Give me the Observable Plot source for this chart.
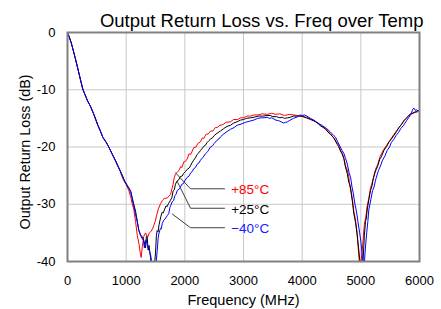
<!DOCTYPE html>
<html>
<head>
<meta charset="utf-8">
<script src="https://cdn.jsdelivr.net/npm/d3@7"></script>
<script src="https://cdn.jsdelivr.net/npm/@observablehq/plot@0.6"></script>
<style>
  html, body { margin: 0; padding: 0; background: #ffffff; }
  #chart { width: 441px; height: 309px; }
</style>
</head>
<body>
<div id="chart"></div>
<script>
const titleText = "Output Return Loss vs. Freq over Temp";
const xTitle = "Frequency (MHz)";
const yTitle = "Output Return Loss (dB)";
const xTicks = [0, 1000, 2000, 3000, 4000, 5000, 6000];
const yTicks = [0, -10, -20, -30, -40];

// [frequency MHz, return loss dB]; shared low-frequency part (all temperatures overlap)
const startPts = [[0,0],[30,-0.8],[60,-1.7],[90,-2.8],[130,-4.4],[176,-6.3],[220,-8.2],[261,-9.9],[300,-10.9],[340,-11.9],[392,-12.9],[449,-14.3],[517,-16.2],[560,-17.2],[602,-18.3],[660,-19.2],[704,-20.0],[760,-21.2],[818,-22.4]];

const pts85 = [[900,-24.3],[930,-25.2],[960,-25.9],[1000,-26.5],[1045,-27.6],[1080,-28.8],[1100,-29.8],[1130,-30.9],[1160,-33.0],[1190,-35.5],[1220,-37.0],[1240,-38.5],[1256,-39.3],[1275,-37.4],[1300,-35.6],[1330,-35.0],[1350,-35.4],[1370,-35.7],[1395,-35.0],[1420,-34.8],[1450,-34.3],[1471,-33.7],[1495,-33.0],[1520,-31.9],[1550,-30.8],[1585,-29.9],[1620,-29.3],[1650,-29.0],[1700,-28.9],[1730,-28.6],[1756,-28.3],[1780,-27.3],[1800,-26.5],[1820,-25.3],[1841,-24.7],[1900,-24.1],[1930,-23.4],[1950,-23.6],[1982,-22.6],[2010,-22.5],[2040,-22.1],[2070,-21.2],[2100,-21.3],[2153,-20.1],[2190,-20.0],[2220,-19.4],[2267,-19.1],[2300,-18.4],[2324,-18.5],[2360,-17.8],[2400,-17.7],[2440,-17.2],[2480,-17.2],[2520,-16.6],[2551,-16.6],[2600,-16.2],[2650,-16.1],[2700,-15.7],[2778,-15.6],[2830,-15.2],[2900,-15.2],[2950,-14.9],[3000,-14.9],[3060,-14.6],[3119,-14.6],[3180,-14.4],[3250,-14.4],[3320,-14.2],[3404,-14.3],[3480,-14.1],[3550,-14.3],[3620,-14.2],[3700,-14.5],[3780,-14.3],[3857,-14.4],[3920,-14.5],[4000,-14.7],[4070,-14.8],[4142,-15.1],[4220,-15.5],[4270,-15.8],[4312,-16.2],[4400,-16.8],[4440,-17.3],[4483,-17.7],[4540,-18.4],[4596,-19.4],[4620,-19.6],[4653,-20.6],[4680,-21.0],[4710,-21.9],[4738,-23.3],[4765,-23.9],[4795,-25.2],[4810,-26.8],[4830,-27.4],[4855,-29.0],[4880,-31.2],[4910,-32.8],[4937,-35.0],[4965,-39.0],[4990,-41.5],[5020,-38.5],[5060,-33.5],[5085,-32.2],[5108,-30.3],[5135,-29.0],[5165,-27.2],[5200,-26.0],[5250,-23.9],[5290,-23.0],[5330,-21.6],[5392,-20.4],[5440,-19.7],[5500,-18.8],[5563,-17.8],[5620,-17.0],[5680,-16.2],[5733,-15.5],[5790,-14.8],[5846,-14.3],[5920,-14.0],[5960,-13.9],[5988,-13.7],[6000,-13.7]];

const pts25 = [[900,-24.2],[935,-25.0],[971,-25.9],[1020,-26.7],[1050,-27.2],[1080,-27.8],[1102,-28.8],[1130,-30.0],[1160,-31.2],[1187,-32.8],[1216,-34.6],[1245,-35.3],[1273,-35.7],[1301,-36.3],[1330,-37.6],[1345,-35.6],[1358,-35.7],[1375,-38.0],[1390,-37.2],[1415,-39.3],[1440,-41.5],[1480,-41.0],[1500,-38.5],[1515,-35.5],[1528,-34.6],[1545,-34.8],[1560,-33.6],[1590,-32.2],[1614,-31.4],[1635,-31.5],[1650,-31.0],[1680,-30.3],[1700,-30.4],[1720,-29.9],[1756,-29.3],[1780,-28.8],[1800,-27.7],[1820,-27.5],[1840,-26.5],[1870,-25.9],[1900,-25.7],[1920,-25.2],[1950,-25.1],[1980,-24.6],[2010,-24.3],[2040,-23.9],[2070,-23.7],[2096,-23.3],[2120,-22.8],[2150,-22.3],[2180,-21.9],[2210,-21.3],[2240,-21.0],[2267,-20.6],[2300,-20.2],[2320,-19.9],[2350,-19.7],[2381,-19.2],[2410,-18.9],[2440,-18.6],[2470,-18.4],[2500,-18.0],[2550,-17.6],[2608,-17.2],[2660,-16.8],[2720,-16.4],[2780,-16.2],[2835,-15.8],[2890,-15.6],[2950,-15.3],[3000,-15.2],[3050,-15.0],[3119,-14.9],[3180,-14.8],[3250,-14.6],[3330,-14.6],[3404,-14.5],[3460,-14.5],[3500,-14.7],[3560,-14.7],[3620,-14.9],[3660,-14.8],[3700,-15.0],[3750,-14.9],[3800,-14.8],[3850,-14.6],[3900,-14.6],[4000,-14.6],[4070,-14.9],[4142,-15.2],[4190,-15.4],[4230,-15.6],[4270,-15.9],[4312,-16.3],[4360,-16.6],[4400,-16.9],[4440,-17.4],[4483,-17.8],[4520,-18.2],[4550,-18.6],[4596,-19.5],[4620,-19.9],[4653,-20.7],[4680,-21.2],[4710,-22.0],[4738,-23.5],[4770,-24.7],[4795,-26.2],[4815,-26.6],[4840,-28.4],[4860,-29.8],[4880,-31.6],[4910,-33.2],[4937,-35.3],[4960,-37.5],[4983,-39.8],[5000,-41.5],[5035,-40.5],[5060,-35.5],[5080,-33.0],[5095,-32.4],[5108,-31.0],[5140,-29.0],[5165,-27.6],[5190,-26.8],[5210,-25.6],[5250,-24.2],[5285,-23.4],[5320,-22.2],[5355,-21.6],[5392,-20.6],[5440,-19.9],[5480,-19.1],[5520,-18.6],[5563,-18.0],[5610,-17.3],[5650,-16.6],[5690,-16.1],[5733,-15.4],[5770,-15.0],[5800,-14.7],[5846,-14.2],[5880,-14.1],[5920,-13.9],[5988,-13.6],[6000,-13.6]];

const ptsM40 = [[900,-24.2],[935,-25.0],[971,-25.9],[1020,-26.9],[1050,-27.3],[1080,-28.0],[1102,-29.0],[1130,-30.3],[1160,-31.8],[1187,-33.0],[1216,-34.5],[1245,-35.5],[1273,-36.0],[1295,-36.3],[1310,-37.6],[1340,-36.2],[1370,-37.5],[1400,-38.3],[1420,-39.0],[1450,-41.5],[1500,-41.5],[1530,-38.0],[1545,-36.0],[1556,-35.2],[1585,-34.2],[1600,-34.3],[1614,-33.4],[1640,-32.8],[1660,-32.6],[1700,-32.0],[1727,-31.6],[1745,-30.6],[1760,-30.2],[1784,-29.6],[1810,-29.3],[1830,-28.5],[1850,-28.3],[1870,-27.6],[1910,-27.3],[1950,-26.5],[1975,-26.4],[2000,-25.9],[2040,-25.3],[2070,-25.1],[2100,-24.5],[2125,-24.3],[2150,-23.8],[2180,-23.6],[2210,-23.0],[2240,-22.8],[2267,-22.3],[2310,-21.8],[2350,-21.2],[2390,-20.8],[2437,-20.0],[2470,-19.8],[2500,-19.4],[2550,-18.8],[2580,-18.6],[2610,-18.2],[2665,-17.7],[2720,-17.3],[2780,-16.9],[2840,-16.6],[2892,-16.2],[2960,-16.0],[3030,-15.7],[3100,-15.5],[3176,-15.3],[3240,-15.0],[3300,-14.9],[3350,-14.9],[3404,-14.8],[3440,-15.0],[3480,-14.9],[3550,-15.3],[3600,-15.4],[3640,-15.6],[3680,-15.8],[3716,-15.7],[3750,-15.6],[3780,-15.4],[3850,-15.0],[3930,-14.7],[3960,-14.4],[4000,-14.5],[4040,-14.4],[4080,-14.6],[4142,-15.0],[4200,-15.3],[4250,-15.7],[4300,-16.0],[4350,-16.3],[4420,-16.8],[4483,-17.4],[4540,-18.0],[4570,-18.3],[4596,-18.9],[4640,-19.8],[4680,-20.6],[4710,-21.1],[4740,-22.0],[4770,-23.0],[4800,-24.5],[4825,-25.3],[4850,-27.0],[4870,-28.0],[4900,-30.0],[4925,-31.2],[4950,-33.0],[4980,-35.0],[5000,-36.5],[5030,-39.5],[5050,-42.0],[5075,-38.0],[5100,-35.0],[5120,-33.0],[5136,-31.0],[5170,-29.2],[5200,-27.6],[5225,-27.0],[5250,-25.8],[5300,-24.1],[5335,-23.3],[5370,-22.3],[5410,-21.6],[5449,-20.6],[5490,-20.0],[5520,-19.2],[5560,-18.7],[5600,-18.0],[5640,-17.5],[5680,-16.8],[5730,-16.2],[5780,-15.4],[5820,-14.8],[5860,-14.2],[5880,-13.5],[5904,-13.2],[5930,-13.6],[5950,-13.5],[5975,-13.7],[6000,-13.6]];

// temperature labels with leader lines (data units)
const labelText   = ["+85°C", "+25°C", "\u221240°C"];
const labelRL     = [-27.3, -30.7, -34.1];
const anchorFreq  = [1841, 1870, 1784];
const anchorRL    = [-24.5, -26.0, -31.7];
const leaderFreq0 = 2097;
const leaderFreq1 = 2676;
const labelFreq   = 2790;

const colors = ["#ff0000", "#000000", "#0000ff"];
const labelColors = ["#ff0000", "#000000", "#1a1aff"];

function series(pts) {
  return startPts.concat(pts).map(([f, rl]) => ({f, rl}));
}
const d85 = series(pts85);
const d25 = series(pts25);
const dM40 = series(ptsM40);

const leaders = labelText.map((t, i) => [
  {f: anchorFreq[i], rl: anchorRL[i], k: i},
  {f: leaderFreq0, rl: labelRL[i], k: i},
  {f: leaderFreq1, rl: labelRL[i], k: i}
]).flat();
const labels = labelText.map((t, i) => ({t, f: labelFreq, rl: labelRL[i], c: labelColors[i]}));

const font = "'Liberation Sans', Arial, sans-serif";

const chart = Plot.plot({
  width: 441,
  height: 309,
  marginLeft: 67,
  marginRight: 22,
  marginTop: 32,
  marginBottom: 48,
  style: {fontFamily: font, background: "#ffffff", color: "#000000", overflow: "visible"},
  x: {domain: [0, 6000]},
  y: {domain: [-40, 0]},
  marks: [
    Plot.ruleX(xTicks.slice(1, -1), {stroke: "#c8c8c8", strokeWidth: 1}),
    Plot.ruleY(yTicks.slice(1, -1), {stroke: "#c8c8c8", strokeWidth: 1}),
    Plot.line(d85, {x: "f", y: "rl", stroke: colors[0], strokeWidth: 1, clip: true}),
    Plot.line(d25, {x: "f", y: "rl", stroke: colors[1], strokeWidth: 1, clip: true}),
    Plot.line(dM40, {x: "f", y: "rl", stroke: colors[2], strokeWidth: 1, clip: true}),
    Plot.line(leaders, {x: "f", y: "rl", z: "k", stroke: "#404040", strokeWidth: 1}),
    Plot.text(labels, {x: "f", y: "rl", text: "t", fill: "c", textAnchor: "start", lineAnchor: "middle", fontSize: 13.5, dy: 1}),
    Plot.frame({stroke: "#808080", strokeWidth: 2}),
    Plot.axisX(xTicks, {tickSize: 0, tickPadding: 14, fontSize: 13, tickFormat: d => String(d), label: null}),
    Plot.axisY(yTicks, {tickSize: 0, tickPadding: 12, fontSize: 13, tickFormat: d => String(d), label: null}),
    Plot.text([titleText], {frameAnchor: "top-right", textAnchor: "end", lineAnchor: "bottom", dx: 4, dy: -5.5, fontSize: 18.5}),
    Plot.text([xTitle], {frameAnchor: "bottom", textAnchor: "middle", lineAnchor: "bottom", dy: 43, fontSize: 14.5}),
    Plot.text([yTitle], {frameAnchor: "left", rotate: -90, textAnchor: "middle", lineAnchor: "middle", dx: -42.5, dy: 5, fontSize: 14.3})
  ]
});
document.getElementById("chart").appendChild(chart);
</script>
</body>
</html>
